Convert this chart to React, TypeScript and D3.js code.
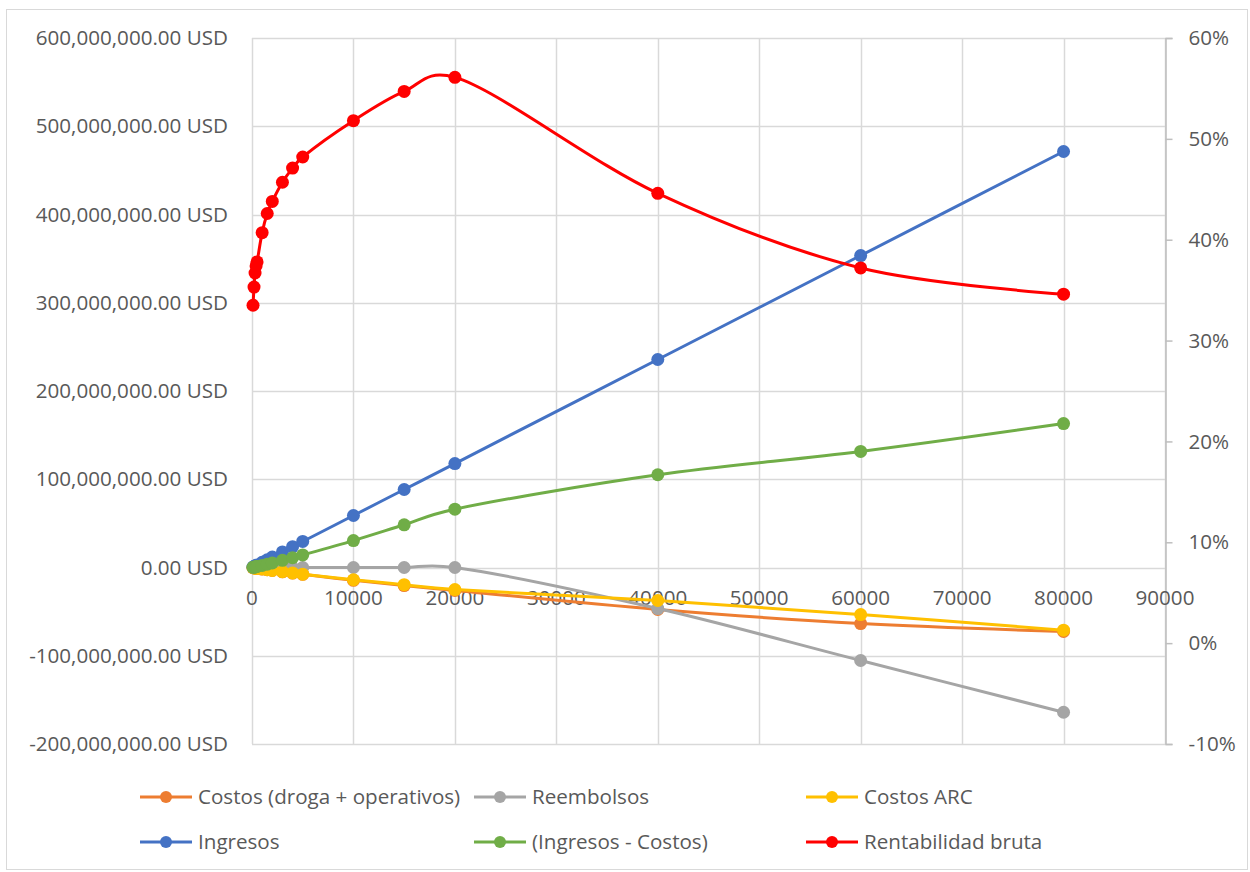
import React, { useEffect, useRef } from "react";
import * as d3 from "d3";

// units sold (x)
const unidades = [100, 200, 300, 400, 500, 1000, 1500, 2000, 3000, 4000, 5000, 10000, 15000, 20000, 40000, 60000, 80000];

// USD values (left axis)
const costos = [-0.2e6, -0.39e6, -0.57e6, -0.75e6, -0.93e6, -1.78e6, -2.57e6, -3.37e6, -4.88e6, -6.35e6, -7.75e6, -14.5e6, -20.5e6, -26e6, -47.6e6, -63.5e6, -72.5e6];
const reembolsos = [0, 0, 0, 0, 0, 0, 0, 0, 0, 0, 0, 0, 0, 0, -46.5e6, -105.4e6, -164e6];
const costosARC = [-0.19e6, -0.37e6, -0.55e6, -0.73e6, -0.91e6, -1.72e6, -2.48e6, -3.26e6, -4.72e6, -6.15e6, -7.55e6, -13.9e6, -19.5e6, -25e6, -37.4e6, -53.3e6, -71e6];
const ingresos = [0.59e6, 1.18e6, 1.77e6, 2.36e6, 2.95e6, 5.9e6, 8.8e6, 11.8e6, 17.7e6, 23.6e6, 29.5e6, 58.9e6, 88.4e6, 117.8e6, 235.7e6, 353.5e6, 471.4e6];
const margen = [0.198e6, 0.416e6, 0.65e6, 0.88e6, 1.11e6, 2.4e6, 3.75e6, 5.17e6, 8.1e6, 11.1e6, 14.2e6, 30.5e6, 48.4e6, 66.1e6, 105.1e6, 131.5e6, 163.1e6];

// ratio (right axis)
const rentabilidad = [0.335, 0.353, 0.367, 0.374, 0.378, 0.407, 0.426, 0.438, 0.457, 0.471, 0.482, 0.518, 0.547, 0.561, 0.446, 0.372, 0.346];

const xTicks = [0, 10000, 20000, 30000, 40000, 50000, 60000, 70000, 80000, 90000];
const leftTicks = [-200e6, -100e6, 0, 100e6, 200e6, 300e6, 400e6, 500e6, 600e6];
const rightTicks = [-0.1, 0, 0.1, 0.2, 0.3, 0.4, 0.5, 0.6];

const series = [
  { name: "Costos (droga + operativos)", values: costos, color: "#ED7D31", axis: "left" },
  { name: "Reembolsos", values: reembolsos, color: "#A5A5A5", axis: "left" },
  { name: "Costos ARC", values: costosARC, color: "#FFC000", axis: "left" },
  { name: "Ingresos", values: ingresos, color: "#4472C4", axis: "left" },
  { name: "(Ingresos - Costos)", values: margen, color: "#70AD47", axis: "left" },
  { name: "Rentabilidad bruta", values: rentabilidad, color: "#FF0000", axis: "right" },
];

const W = 1250;
const H = 872;
const FONT = "'Open Sans', sans-serif";
const FS = 20.6;
const TXT = "#595959";

export default function App() {
  const ref = useRef<SVGSVGElement>(null);

  useEffect(() => {
    const svg = d3.select(ref.current);
    svg.selectAll("*").remove();

    const plot = { left: 252, right: 1165, top: 38, bottom: 744 };

    const x = d3.scaleLinear().domain([0, 90000]).range([plot.left, plot.right]);
    const yL = d3.scaleLinear().domain([-200e6, 600e6]).range([plot.bottom, plot.top]);
    const yR = d3.scaleLinear().domain([-0.1, 0.6]).range([plot.bottom, plot.top]);

    // chart border
    svg
      .append("rect")
      .attr("x", 6.5)
      .attr("y", 9.5)
      .attr("width", W - 9)
      .attr("height", H - 12)
      .attr("fill", "#fff")
      .attr("stroke", "#d9d9d9");

    const grid = svg.append("g");
    grid
      .selectAll("line.h")
      .data(leftTicks)
      .join("line")
      .attr("x1", plot.left)
      .attr("x2", plot.right)
      .attr("y1", (d) => Math.round(yL(d)) + 0.5)
      .attr("y2", (d) => Math.round(yL(d)) + 0.5)
      .attr("stroke", "#d9d9d9")
      .attr("stroke-width", 1.5);
    grid
      .selectAll("line.v")
      .data(xTicks)
      .join("line")
      .attr("x1", (d) => Math.round(x(d)) + 0.5)
      .attr("x2", (d) => Math.round(x(d)) + 0.5)
      .attr("y1", plot.top)
      .attr("y2", plot.bottom)
      .attr("stroke", "#d9d9d9")
      .attr("stroke-width", 1.5);

    const fmtUsd = (v: number) => d3.format(",.2f")(v).replace("−", "-") + " USD";
    const fmtPct = (v: number) => d3.format(".0%")(v).replace("−", "-");

    // left axis labels
    svg
      .append("g")
      .selectAll("text")
      .data(leftTicks)
      .join("text")
      .attr("x", 228)
      .attr("y", (d) => yL(d))
      .attr("dy", "0.35em")
      .attr("text-anchor", "end")
      .attr("font-family", FONT)
      .attr("font-size", FS)
      .attr("fill", TXT)
      .text(fmtUsd);

    // right axis
    const right = svg.append("g").attr("transform", `translate(${plot.right + 0.5},0)`);
    right
      .call(d3.axisRight(yR).tickValues(rightTicks).tickSize(7).tickPadding(16).tickFormat((d) => fmtPct(d as number)))
      .call((g) => g.selectAll("line, path").attr("stroke", "#bfbfbf").attr("stroke-width", 1.5))
      .call((g) =>
        g.selectAll("text").attr("font-family", FONT).attr("font-size", FS).attr("fill", TXT)
      );

    // x axis labels
    svg
      .append("g")
      .selectAll("text")
      .data(xTicks)
      .join("text")
      .attr("x", (d) => x(d))
      .attr("y", yL(0) + 37)
      .attr("text-anchor", "middle")
      .attr("font-family", FONT)
      .attr("font-size", FS)
      .attr("fill", TXT)
      .text((d) => String(d));

    // Excel-like smoothing, a bit of overshoot
    const curve = d3.curveCatmullRom.alpha(0.25);

    series.forEach((s) => {
      const y = s.axis === "left" ? yL : yR;
      const pts = unidades.map((u, i) => [u, s.values[i]] as [number, number]);
      const line = d3
        .line<[number, number]>()
        .x((d) => x(d[0]))
        .y((d) => y(d[1]))
        .curve(curve);
      const g = svg.append("g");
      g.append("path")
        .datum(pts)
        .attr("fill", "none")
        .attr("stroke", s.color)
        .attr("stroke-width", 3)
        .attr("stroke-linejoin", "round")
        .attr("d", line);
      g.selectAll("circle")
        .data(pts)
        .join("circle")
        .attr("cx", (d) => x(d[0]))
        .attr("cy", (d) => y(d[1]))
        .attr("r", 6.5)
        .attr("fill", s.color);
    });

    // legend
    const cols = [140, 474, 806];
    const rows = [797, 842];
    const legend = svg.append("g");
    series.forEach((s, i) => {
      const lx = cols[i % 3];
      const ly = rows[Math.floor(i / 3)];
      const item = legend.append("g").attr("transform", `translate(${lx},${ly})`);
      item.append("line").attr("x1", 0).attr("x2", 52).attr("stroke", s.color).attr("stroke-width", 3);
      item.append("circle").attr("cx", 26).attr("r", 6).attr("fill", s.color);
      item
        .append("text")
        .attr("x", 58)
        .attr("dy", "0.35em")
        .attr("font-family", FONT)
        .attr("font-size", FS)
        .attr("fill", TXT)
        .text(s.name);
    });
  }, []);

  return (
    <svg
      ref={ref}
      width={W}
      height={H}
      style={{ position: "absolute", left: 0, top: 0, background: "#fff" }}
    />
  );
}
